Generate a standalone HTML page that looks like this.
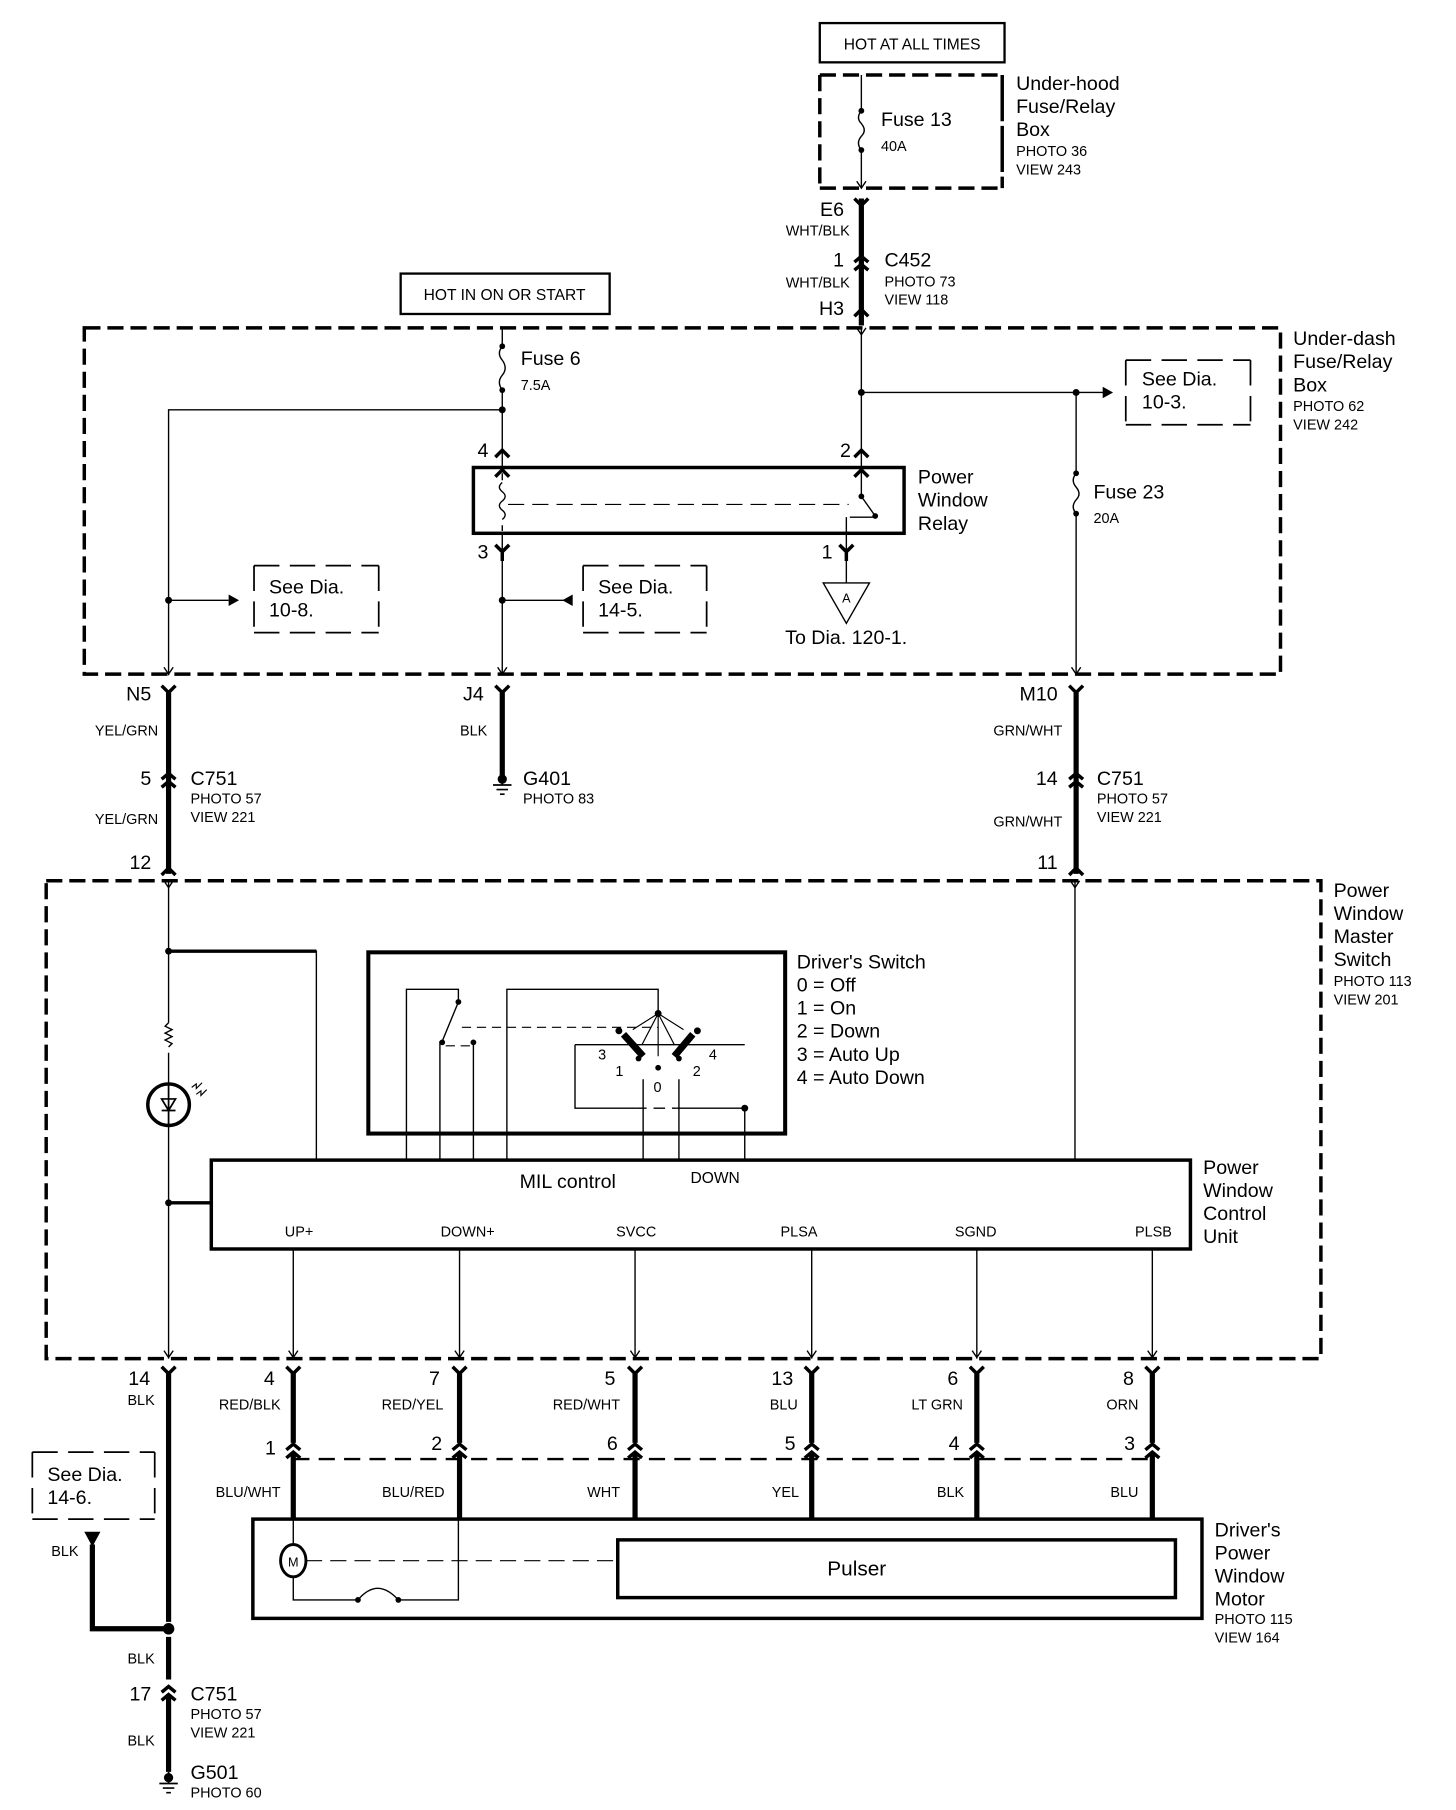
<!DOCTYPE html>
<html><head><meta charset="utf-8"><style>
html,body{margin:0;padding:0;background:#fff}
svg{display:block}
text{font-family:"Liberation Sans",sans-serif;fill:#000}
.b{font-size:17px}
.s{font-size:12.5px}
.e{text-anchor:end}
.m{text-anchor:middle}
</style></head><body>
<svg width="1456" height="1810" viewBox="0 0 1261 1568" preserveAspectRatio="none" xmlns="http://www.w3.org/2000/svg">
<defs>
<g id="fy"><path d="M-6,-6 L0,0 L6,-6 M0,0 V8" fill="none" stroke="#000" stroke-width="3"/></g>
<g id="mc"><path d="M-6,6 L0,0 L6,6" fill="none" stroke="#000" stroke-width="3"/></g>
<g id="inl"><path d="M-6,-2 L0,-7 L6,-2 M-6,5 L0,0 L6,5" fill="none" stroke="#000" stroke-width="3"/></g>
<g id="ar"><path d="M-4,-6 L0,0 L4,-6" fill="none" stroke="#000" stroke-width="1.2"/></g>
<g id="gnd"><path d="M0,-8 V2 M-8,2 H8 M-5,6 H5 M-2,10 H2" fill="none" stroke="#000" stroke-width="1.5"/><circle cx="0" cy="-3" r="4"/></g>
</defs>
<g fill="none" stroke="#000">
<rect x="710" y="20" width="160" height="34" stroke-width="2"/>
<path d="M710,65 H868 M710,163 H868 M710,65 V163" stroke-width="3" stroke-dasharray="14,6"/>
<path d="M868,65 V163" stroke-width="3" stroke-dasharray="40,4"/>
<path d="M746,65 V96 M746,130 V163" stroke-width="1.2"/>
<path d="M746,96 q-5,6 0,11 q5,6 0,11 q-5,6 0,12" stroke-width="1.2"/>
<path d="M746,172 V282" stroke-width="4.5"/>
<rect x="347" y="237" width="181" height="35" stroke-width="2"/>
<rect x="73" y="284" width="1036" height="300" stroke-width="3" stroke-dasharray="14,6"/>
<path d="M435,284 V300 M435,338 V405 M435,462 V585 M435,355 H146 V585" stroke-width="1.2"/>
<path d="M435,300 q-5,6 0,12 q5,7 0,13 q-5,6 0,13" stroke-width="1.2"/>
<path d="M435,520 H490" stroke-width="1.2"/>
<path d="M146,520 H198" stroke-width="1.2"/>
<path d="M220,490 H328 M220,548 H328 M220,490 V548 M328,490 V548" stroke-width="1.5" stroke-dasharray="22,9"/>
<path d="M505,490 H612 M505,548 H612 M505,490 V548 M612,490 V548" stroke-width="1.5" stroke-dasharray="22,9"/>
<rect x="410" y="405" width="373" height="57" stroke-width="3"/>
<path d="M435,410 V416 M435,455 V460" stroke-width="1.2"/>
<path d="M435,418 q-5,4 0,8 q5,4 0,8 q-5,4 0,8 q5,4 0,8" stroke-width="1.2"/>
<path d="M440,437 H735" stroke-width="1" stroke-dasharray="14,7"/>
<path d="M746,284 V430 M746,430 L758,447 M733,462 V448 M736,448 H756" stroke-width="1.2"/>
<path d="M733,462 V505 M713,505 H753 L733,540 Z" stroke-width="1.2"/>
<path d="M746,340 H958" stroke-width="1.2"/>
<path d="M932,340 V410 M932,445 V585" stroke-width="1.2"/>
<path d="M932,410 q-5,6 0,12 q5,6 0,11 q-5,6 0,12" stroke-width="1.2"/>
<path d="M975,312 H1083 M975,368 H1083 M975,312 V368 M1083,312 V368" stroke-width="1.5" stroke-dasharray="22,9"/>
<path d="M146,600 V757 M932,600 V757 M435,600 V672" stroke-width="4.5"/>
<rect x="40" y="763" width="1104" height="414" stroke-width="3" stroke-dasharray="14,6"/>
<path d="M146,763 V886 M146,912 V939 M146,975 V1177 M146,824 H274 V1005 M146,1042 H183" stroke-width="1.2"/>
<path d="M146,824 H274 M146,1042 H183" stroke-width="3"/>
<path d="M146,886 l-3,3 l6,3 l-6,3 l6,3 l-6,3 l6,3 l-3,3" stroke-width="1.2"/>
<circle cx="146" cy="957" r="18" stroke-width="3"/>
<path d="M146,939 V975 M140,952 H152 L146,962 Z M140,962 H152" stroke-width="1.5"/>
<path d="M166,942 l4,-3 l0,4 l5,-5 M170,948 l4,-3 l0,4 l5,-5" stroke-width="1"/>
<path d="M931,763 V1005" stroke-width="1.2"/>
<rect x="319" y="825" width="361" height="157" stroke-width="3.5"/>
<path d="M352,1005 V857 H397 V868 L383,902 M381,902 V1005 M410,902 V1005 M439,1005 V857 H570 V878 M498,905 H645 M498,905 V960 H550 M586,960 H645 V1005 M557,935 V1005 M588,935 V1005" stroke-width="1.2"/>
<path d="M386,906 H410 M400,890 H570" stroke-width="1" stroke-dasharray="8,5"/>
<path d="M550,960 H586" stroke-width="1.2" stroke-dasharray="10,6"/>
<path d="M570,878 L548,892 M570,878 L592,892 M570,878 V915 M570,878 L556,905 M570,878 L584,905" stroke-width="1"/>
<path d="M540,896 L557,915 M600,896 L584,915" stroke-width="6"/>
<rect x="183" y="1005" width="848" height="77" stroke-width="3"/>
<path d="M254,1082 V1177 M398,1082 V1177 M550,1082 V1177 M703,1082 V1177 M846,1082 V1177 M998,1082 V1177" stroke-width="1.2"/>
<path d="M146,1190 V1405 M146,1418 V1455 M146,1470 V1535" stroke-width="4.5"/>
<path d="M254,1190 V1250 M398,1190 V1250 M550,1190 V1250 M703,1190 V1250 M846,1190 V1250 M998,1190 V1250 M254,1258 V1317 M398,1258 V1317 M550,1258 V1317 M703,1258 V1317 M846,1258 V1317 M998,1258 V1317" stroke-width="4.5"/>
<path d="M254,1264 H998" stroke-width="2" stroke-dasharray="14,8"/>
<path d="M28,1258 H134 M28,1316 H134 M28,1258 V1316 M134,1258 V1316" stroke-width="1.5" stroke-dasharray="22,9"/>
<path d="M80,1338 V1411 H146" stroke-width="4.5"/>
<rect x="219" y="1316" width="822" height="86" stroke-width="3"/>
<rect x="535" y="1334" width="483" height="50" stroke-width="3"/>
<ellipse cx="254" cy="1352" rx="11" ry="14" stroke-width="2.5"/>
<path d="M265,1352 H535" stroke-width="1" stroke-dasharray="14,7"/>
<path d="M254,1317 V1338 M254,1366 V1386 H310 M345,1386 H397 V1317" stroke-width="1.2"/>
<path d="M310,1386 q17,-20 35,0" stroke-width="1.2"/>
</g>
<g fill="#000">
<circle cx="746" cy="96" r="2.5"/><circle cx="746" cy="130" r="2.5"/>
<circle cx="435" cy="300" r="2.5"/><circle cx="435" cy="338" r="2.5"/><circle cx="435" cy="355" r="3"/>
<circle cx="435" cy="520" r="3"/><circle cx="146" cy="520" r="3"/>
<path d="M198,515 L207,520 L198,525 Z"/><path d="M496,515 L487,520 L496,525 Z"/>
<circle cx="746" cy="340" r="3"/><circle cx="932" cy="340" r="3"/>
<path d="M955,335 L964,340 L955,345 Z"/>
<circle cx="932" cy="410" r="2.5"/><circle cx="932" cy="445" r="2.5"/>
<circle cx="746" cy="430" r="2.5"/><circle cx="758" cy="447" r="2.5"/>
<circle cx="146" cy="824" r="3"/><circle cx="146" cy="1042" r="3"/>
<circle cx="397" cy="868" r="2.5"/><circle cx="383" cy="903" r="2.5"/><circle cx="410" cy="903" r="2.5"/>
<circle cx="570" cy="878" r="3"/><circle cx="645" cy="960" r="3"/><circle cx="570" cy="925" r="2.5"/>
<circle cx="536" cy="893" r="3"/><circle cx="604" cy="893" r="3"/><circle cx="553" cy="917" r="2.5"/><circle cx="588" cy="917" r="2.5"/>
<circle cx="146" cy="1411" r="5"/>
<path d="M73,1327 H87 L80,1340 Z"/>
<circle cx="310" cy="1386" r="2.5"/><circle cx="345" cy="1386" r="2.5"/>
</g>
<use href="#ar" x="746" y="163"/>
<use href="#fy" x="746" y="178"/>
<use href="#inl" x="746" y="229"/>
<use href="#mc" x="746" y="268"/>
<use href="#ar" x="746" y="290"/>
<use href="#mc" x="435" y="390"/><use href="#mc" x="435" y="407"/>
<use href="#fy" x="435" y="478"/>
<use href="#fy" x="733" y="478"/>
<use href="#mc" x="746" y="390"/><use href="#mc" x="746" y="407"/>
<use href="#ar" x="146" y="584"/><use href="#ar" x="435" y="584"/><use href="#ar" x="932" y="584"/>
<use href="#fy" x="146" y="600"/><use href="#fy" x="435" y="600"/><use href="#fy" x="932" y="600"/>
<use href="#inl" x="146" y="677"/><use href="#inl" x="932" y="677"/>
<use href="#mc" x="146" y="752"/><use href="#mc" x="932" y="752"/>
<use href="#ar" x="146" y="769"/><use href="#ar" x="931" y="769"/>
<use href="#gnd" x="435" y="678"/>
<use href="#ar" x="146" y="1176"/><use href="#ar" x="254" y="1176"/><use href="#ar" x="398" y="1176"/><use href="#ar" x="550" y="1176"/><use href="#ar" x="703" y="1176"/><use href="#ar" x="846" y="1176"/><use href="#ar" x="998" y="1176"/>
<use href="#fy" x="146" y="1190"/><use href="#fy" x="254" y="1190"/><use href="#fy" x="398" y="1190"/><use href="#fy" x="550" y="1190"/><use href="#fy" x="703" y="1190"/><use href="#fy" x="846" y="1190"/><use href="#fy" x="998" y="1190"/>
<use href="#inl" x="254" y="1258"/><use href="#inl" x="398" y="1258"/><use href="#inl" x="550" y="1258"/><use href="#inl" x="703" y="1258"/><use href="#inl" x="846" y="1258"/><use href="#inl" x="998" y="1258"/>
<use href="#inl" x="146" y="1468"/>
<use href="#gnd" x="146" y="1543"/>
<text x="790" y="43" class="s m" style="font-size:13.5px">HOT AT ALL TIMES</text>
<text x="880" y="78" class="b">Under-hood</text><text x="880" y="98" class="b">Fuse/Relay</text><text x="880" y="118" class="b">Box</text>
<text x="880" y="135" class="s">PHOTO 36</text><text x="880" y="151" class="s">VIEW 243</text>
<text x="763" y="109" class="b">Fuse 13</text><text x="763" y="131" class="s">40A</text>
<text x="731" y="187" class="b e">E6</text><text x="736" y="204" class="s e">WHT/BLK</text>
<text x="731" y="231" class="b e">1</text><text x="766" y="231" class="b">C452</text>
<text x="766" y="248" class="s">PHOTO 73</text><text x="766" y="264" class="s">VIEW 118</text>
<text x="736" y="249" class="s e">WHT/BLK</text><text x="731" y="273" class="b e">H3</text>
<text x="437" y="260" class="s m" style="font-size:13.5px">HOT IN ON OR START</text>
<text x="1120" y="299" class="b">Under-dash</text><text x="1120" y="319" class="b">Fuse/Relay</text><text x="1120" y="339" class="b">Box</text>
<text x="1120" y="356" class="s">PHOTO 62</text><text x="1120" y="372" class="s">VIEW 242</text>
<text x="451" y="316" class="b">Fuse 6</text><text x="451" y="338" class="s">7.5A</text>
<text x="423" y="396" class="b e">4</text><text x="423" y="484" class="b e">3</text>
<text x="737" y="396" class="b e">2</text><text x="721" y="484" class="b e">1</text>
<text x="795" y="419" class="b">Power</text><text x="795" y="439" class="b">Window</text><text x="795" y="459" class="b">Relay</text>
<text x="733" y="522" class="s m" style="font-size:11px">A</text>
<text x="680" y="558" class="b">To Dia. 120-1.</text>
<text x="233" y="514" class="b">See Dia.</text><text x="233" y="534" class="b">10-8.</text>
<text x="518" y="514" class="b">See Dia.</text><text x="518" y="534" class="b">14-5.</text>
<text x="989" y="334" class="b">See Dia.</text><text x="989" y="354" class="b">10-3.</text>
<text x="947" y="432" class="b">Fuse 23</text><text x="947" y="453" class="s">20A</text>
<text x="131" y="607" class="b e">N5</text><text x="419" y="607" class="b e">J4</text><text x="916" y="607" class="b e">M10</text>
<text x="137" y="637" class="s e">YEL/GRN</text><text x="422" y="637" class="s e">BLK</text><text x="920" y="637" class="s e">GRN/WHT</text>
<text x="131" y="680" class="b e">5</text><text x="165" y="680" class="b">C751</text><text x="165" y="696" class="s">PHOTO 57</text><text x="165" y="712" class="s">VIEW 221</text>
<text x="137" y="714" class="s e">YEL/GRN</text><text x="131" y="753" class="b e">12</text>
<text x="453" y="680" class="b">G401</text><text x="453" y="696" class="s">PHOTO 83</text>
<text x="916" y="680" class="b e">14</text><text x="950" y="680" class="b">C751</text><text x="950" y="696" class="s">PHOTO 57</text><text x="950" y="712" class="s">VIEW 221</text>
<text x="920" y="716" class="s e">GRN/WHT</text><text x="916" y="753" class="b e">11</text>
<text x="1155" y="777" class="b">Power</text><text x="1155" y="797" class="b">Window</text><text x="1155" y="817" class="b">Master</text><text x="1155" y="837" class="b">Switch</text>
<text x="1155" y="854" class="s">PHOTO 113</text><text x="1155" y="870" class="s">VIEW 201</text>
<text x="690" y="839" class="b">Driver's Switch</text><text x="690" y="859" class="b">0 = Off</text><text x="690" y="879" class="b">1 = On</text>
<text x="690" y="899" class="b">2 = Down</text><text x="690" y="919" class="b">3 = Auto Up</text><text x="690" y="939" class="b">4 = Auto Down</text>
<text x="518" y="918" class="s">3</text><text x="533" y="932" class="s">1</text><text x="566" y="946" class="s">0</text><text x="600" y="932" class="s">2</text><text x="614" y="918" class="s">4</text>
<text x="450" y="1029" class="b">MIL control</text><text x="598" y="1025" class="s" style="font-size:13.5px">DOWN</text>
<text x="259" y="1071" class="s m">UP+</text><text x="405" y="1071" class="s m">DOWN+</text><text x="551" y="1071" class="s m">SVCC</text>
<text x="692" y="1071" class="s m">PLSA</text><text x="845" y="1071" class="s m">SGND</text><text x="999" y="1071" class="s m">PLSB</text>
<text x="1042" y="1017" class="b">Power</text><text x="1042" y="1037" class="b">Window</text><text x="1042" y="1057" class="b">Control</text><text x="1042" y="1077" class="b">Unit</text>
<text x="130" y="1200" class="b e">14</text><text x="238" y="1200" class="b e">4</text><text x="381" y="1200" class="b e">7</text><text x="533" y="1200" class="b e">5</text><text x="687" y="1200" class="b e">13</text><text x="830" y="1200" class="b e">6</text><text x="982" y="1200" class="b e">8</text>
<text x="134" y="1217" class="s e">BLK</text><text x="243" y="1221" class="s e">RED/BLK</text><text x="384" y="1221" class="s e">RED/YEL</text><text x="537" y="1221" class="s e">RED/WHT</text><text x="691" y="1221" class="s e">BLU</text><text x="834" y="1221" class="s e">LT GRN</text><text x="986" y="1221" class="s e">ORN</text>
<text x="239" y="1260" class="b e">1</text><text x="383" y="1256" class="b e">2</text><text x="535" y="1256" class="b e">6</text><text x="689" y="1256" class="b e">5</text><text x="831" y="1256" class="b e">4</text><text x="983" y="1256" class="b e">3</text>
<text x="243" y="1297" class="s e">BLU/WHT</text><text x="385" y="1297" class="s e">BLU/RED</text><text x="537" y="1297" class="s e">WHT</text><text x="692" y="1297" class="s e">YEL</text><text x="835" y="1297" class="s e">BLK</text><text x="986" y="1297" class="s e">BLU</text>
<text x="41" y="1283" class="b">See Dia.</text><text x="41" y="1303" class="b">14-6.</text>
<text x="68" y="1348" class="s e">BLK</text>
<text x="254" y="1357" class="s m" style="font-size:11px">M</text>
<text x="742" y="1365" class="b m" style="font-size:18px">Pulser</text>
<text x="1052" y="1331" class="b">Driver's</text><text x="1052" y="1351" class="b">Power</text><text x="1052" y="1371" class="b">Window</text><text x="1052" y="1391" class="b">Motor</text>
<text x="1052" y="1407" class="s">PHOTO 115</text><text x="1052" y="1423" class="s">VIEW 164</text>
<text x="134" y="1441" class="s e">BLK</text><text x="131" y="1473" class="b e">17</text><text x="165" y="1473" class="b">C751</text>
<text x="165" y="1489" class="s">PHOTO 57</text><text x="165" y="1505" class="s">VIEW 221</text><text x="134" y="1512" class="s e">BLK</text>
<text x="165" y="1541" class="b">G501</text><text x="165" y="1557" class="s">PHOTO 60</text>
</svg>
</body></html>
